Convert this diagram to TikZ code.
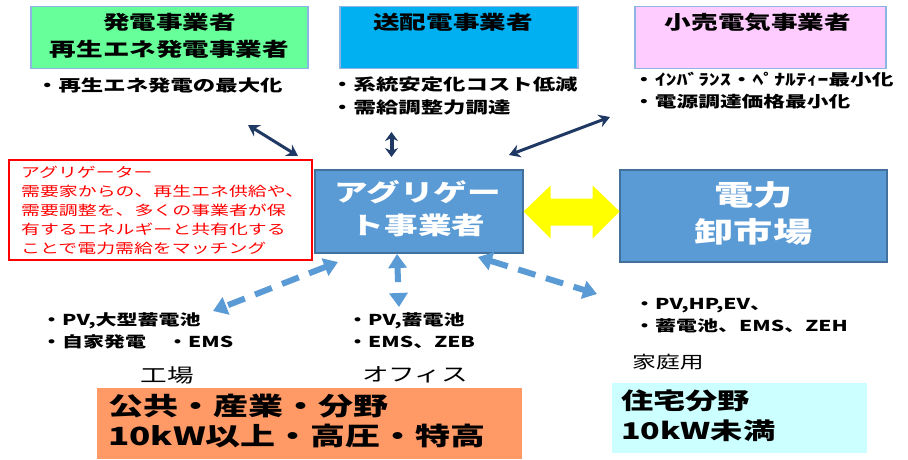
\documentclass[tikz,border=0pt]{standalone}
\usepackage{fontspec}
\setmainfont{Noto Sans CJK JP}[FakeStretch=1.4]
\usetikzlibrary{arrows.meta}
\definecolor{genfill}{HTML}{66FF99}
\definecolor{tsofill}{HTML}{00B0F0}
\definecolor{retfill}{HTML}{FFCCFF}
\definecolor{topborder}{HTML}{8EB4E3}
\definecolor{aggfill}{HTML}{5B9BD5}
\definecolor{aggborder}{HTML}{41719C}
\definecolor{orgfill}{HTML}{FF9966}
\definecolor{cyanfill}{HTML}{CCFFFF}
\definecolor{navy}{HTML}{1F3864}
\definecolor{dashblue}{HTML}{5B9BD5}
\definecolor{yel}{HTML}{FFFF00}
\definecolor{redc}{HTML}{FF0000}
\begin{document}
\begin{tikzpicture}[x=1pt,y=-1pt,
  topbox/.style={draw=topborder, line width=1.2pt, inner sep=0pt},
  bluebox/.style={draw=aggborder, fill=aggfill, line width=1.2pt, inner sep=0pt},
  plainbox/.style={draw=none, inner sep=0pt},
  txt/.style={inner sep=0pt, text=black},
  navyarr/.style={draw=navy, line width=3pt, {Stealth[length=11pt,width=13pt]}-{Stealth[length=11pt,width=13pt]}},
  dasharr/.style={draw=dashblue, line width=6pt, dash pattern=on 18pt off 11pt, {Triangle[length=14pt,width=18pt]}-{Triangle[length=14pt,width=18pt]}}
]
\useasboundingbox (0,0) rectangle (908,459);
\fill[white] (0,0) rectangle (908,459);

% top boxes
\node[topbox, fill=genfill, minimum width=277pt, minimum height=62pt] (gen) at (169.5,37.5) {};
\node[topbox, fill=tsofill, minimum width=238pt, minimum height=62pt] (tso) at (459,37.5) {};
\node[topbox, fill=retfill, minimum width=251pt, minimum height=62pt] (ret) at (760.5,37.5) {};

\node[txt, font=\bfseries\fontsize{19}{27}\selectfont, align=center] (genlbl) at (169.5,35.5) {発電事業者\\再生エネ発電事業者};
\node[txt, font=\bfseries\fontsize{19}{27}\selectfont] (tsolbl) at (453,22) {送配電事業者};
\node[txt, font=\bfseries\fontsize{19}{27}\selectfont] (retlbl) at (758,22) {小売電気事業者};

% notes under top boxes
\node[txt, anchor=west, font=\bfseries\fontsize{16}{23}\selectfont] (gennote) at (36,85) {・再生エネ発電の最大化};
\node[txt, anchor=west, align=left, font=\bfseries\fontsize{16}{23}\selectfont] (tsonote) at (331,95.5) {・系統安定化コスト低減\\・需給調整力調達};
\node[txt, anchor=west, align=left, font=\bfseries\fontsize{15.5}{22}\selectfont] (retnote) at (633,91) {・ｲﾝﾊﾞﾗﾝｽ・ﾍﾟﾅﾙﾃｨｰ最小化\\・電源調達価格最小化};

% red explanation box
\node[draw=redc, line width=1.2pt, fill=white, minimum width=303pt, minimum height=100pt, inner sep=0pt] (expl) at (160.5,210) {};
\node[txt, anchor=west, align=left, text=redc, font=\fontsize{13.5}{19}\selectfont] (expltxt) at (21,210) {アグリゲーター\\需要家からの、再生エネ供給や、\\需要調整を、多くの事業者が保\\有するエネルギーと共有化する\\ことで電力需給をマッチング};

% central boxes
\node[bluebox, minimum width=208pt, minimum height=83pt] (agg) at (419,211.5) {};
\node[txt, text=white, font=\bfseries\fontsize{24}{33}\selectfont, align=center] (agglbl) at (418,208.5) {アグリゲー\\ト事業者};
\node[bluebox, minimum width=267pt, minimum height=92pt] (mkt) at (753.5,216) {};
\node[txt, text=white, font=\bfseries\fontsize{28}{37}\selectfont, align=center] (mktlbl) at (753.5,213.5) {電力\\卸市場};

% yellow double arrow
\fill[yel] (agg.east) -- ++(27,-26) -- ++(0,13) -- ++(42,0) -- ++(0,-13) -- ++(27,26)
  -- ++(-27,27) -- ++(0,-13) -- ++(-42,0) -- ++(0,13) -- cycle;

% navy arrows
\coordinate (n1a) at (248,125);
\coordinate (n1b) at (298,156);
\coordinate (n2a) at (391.5,132);
\coordinate (n2b) at (391.5,157);
\coordinate (n3a) at (509,155);
\coordinate (n3b) at (610,117);
\draw[navyarr] (n1a) -- (n1b);
\draw[draw=navy, line width=4pt, {Stealth[length=9pt,width=13pt]}-{Stealth[length=9pt,width=13pt]}] (n2a) -- (n2b);
\draw[navyarr] (n3a) -- (n3b);

% dashed arrows
\coordinate (d1a) at (338,262);
\coordinate (d1b) at (213,311);
\coordinate (d2a) at (397,254);
\coordinate (d2b) at (399,307);
\coordinate (d3a) at (478,257);
\coordinate (d3b) at (597,294);
\draw[dasharr] (d1a) -- (d1b);
\draw[dasharr, dash pattern=on 15pt off 12pt] (d2a) -- (d2b);
\draw[dasharr] (d3a) -- (d3b);

% bottom notes
\node[txt, anchor=west, align=left, font=\bfseries\fontsize{15}{22}\selectfont] (facnote) at (41,331) {・PV,大型蓄電池\\・自家発電　・EMS};
\node[txt, anchor=west, align=left, font=\bfseries\fontsize{15}{22}\selectfont] (offnote) at (347,331) {・PV,蓄電池\\・EMS、ZEB};
\node[txt, anchor=west, align=left, font=\bfseries\fontsize{15}{22}\selectfont] (homnote) at (634,316) {・PV,HP,EV、\\・蓄電池、EMS、ZEH};

\node[txt, font=\fontsize{19}{24}\selectfont] (faclbl) at (167,375) {工場};
\node[txt, anchor=west, font=\fontsize{19}{24}\selectfont] (offlbl) at (362,375) {オフィス};
\node[txt, anchor=west, font=\fontsize{17}{22}\selectfont] (homlbl) at (632,362) {家庭用};

% bottom boxes
\node[plainbox, fill=orgfill, minimum width=425pt, minimum height=71pt] (pub) at (309.5,423.5) {};
\node[txt, anchor=west, align=left, font=\bfseries\fontsize{25}{30}\selectfont] (publbl) at (108,421) {公共・産業・分野\\10kW以上・高圧・特高};
\node[plainbox, fill=cyanfill, minimum width=255pt, minimum height=70pt] (res) at (739.5,418) {};
\node[txt, anchor=west, align=left, font=\bfseries\fontsize{23}{30}\selectfont] (reslbl) at (621,416) {住宅分野\\10kW未満};
\end{tikzpicture}
\end{document}
